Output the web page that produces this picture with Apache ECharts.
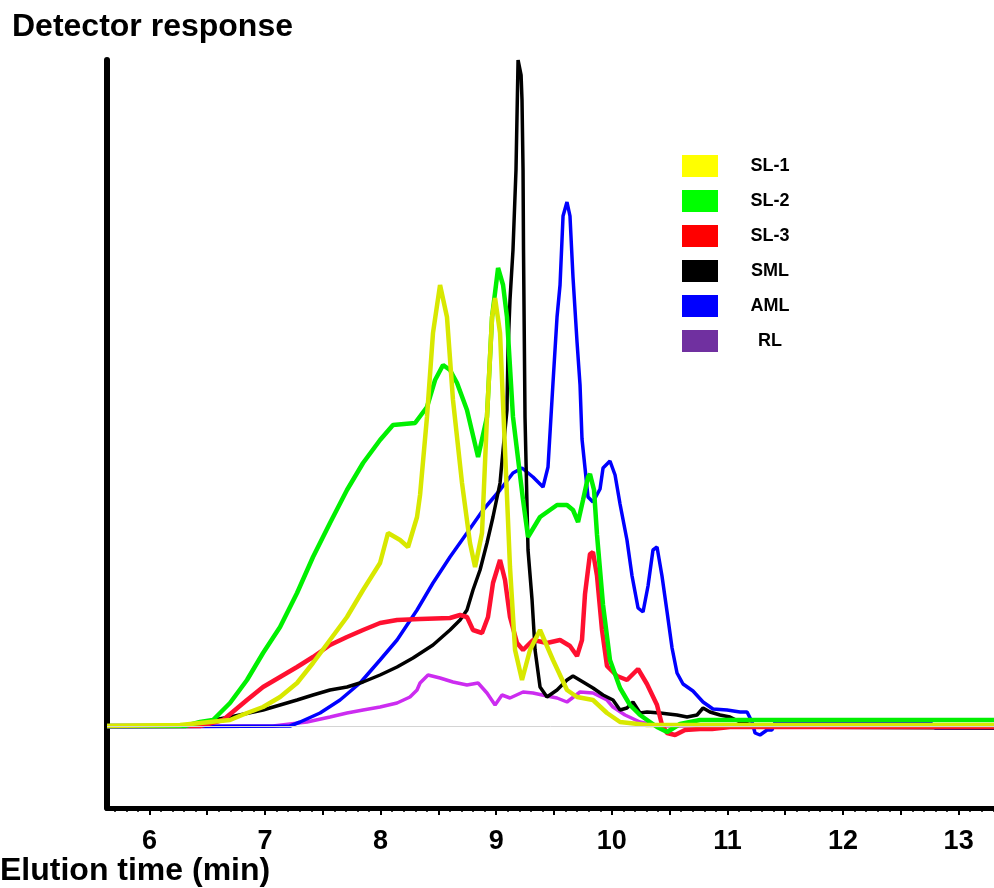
<!DOCTYPE html>
<html>
<head>
<meta charset="utf-8">
<script src="https://cdn.jsdelivr.net/npm/echarts@6/dist/echarts.min.js"></script>
<style>
  html, body { margin: 0; padding: 0; background: #fff; }
  #chart { width: 994px; height: 888px; }
</style>
</head>
<body>
<div id="chart"></div>
<script>
// elution time (min), detector response (arbitrary units, baseline = 0)
var sl1 = [[5.633,0],[6.265,1],[6.697,6],[6.844,13],[6.983,19],[7.130,29],[7.277,43],[7.415,63],[7.562,86],[7.709,109],
  [7.848,136],[7.995,163],[8.064,193],[8.168,186],[8.237,179],[8.315,209],[8.341,231],[8.401,309],[8.453,393],[8.514,441],
  [8.574,409],[8.626,326],[8.704,243],[8.773,183],[8.817,159],[8.877,193],[8.920,309],[8.964,409],[8.990,428],[9.033,393],
  [9.076,276],[9.119,159],[9.163,76],[9.223,46],[9.292,76],[9.379,96],[9.491,66],[9.612,36],[9.699,29],[9.837,26],
  [9.958,13],[10.071,4],[10.304,1],[13.306,1]];

var sl2 = [[5.633,0],[6.308,0],[6.438,4],[6.550,6],[6.697,23],[6.844,46],[6.983,73],[7.130,99],[7.277,133],[7.415,169],
  [7.562,203],[7.709,236],[7.848,263],[7.995,286],[8.107,301],[8.298,303],[8.401,319],[8.471,346],[8.540,361],[8.600,356],
  [8.661,343],[8.747,316],[8.843,269],[8.920,309],[8.964,409],[9.016,458],[9.059,441],[9.093,409],[9.145,309],[9.232,226],
  [9.275,189],[9.379,209],[9.526,221],[9.612,221],[9.664,216],[9.708,204],[9.751,226],[9.794,249],[9.811,252],[9.846,236],
  [9.872,191],[9.924,121],[9.984,66],[10.071,38],[10.157,21],[10.244,11],[10.391,-1],[10.478,-6],[10.590,2],[10.763,6],
  [13.306,6]];

var sl3 = [[5.633,0],[6.438,0],[6.637,6],[6.844,26],[6.983,39],[7.130,49],[7.277,59],[7.415,69],[7.562,81],[7.709,89],
  [7.848,96],[7.995,103],[8.142,106],[8.341,107],[8.600,108],[8.687,111],[8.747,109],[8.799,96],[8.877,93],[8.929,109],
  [8.972,143],[9.033,166],[9.076,146],[9.119,109],[9.180,83],[9.232,76],[9.318,86],[9.439,83],[9.552,86],[9.638,80],
  [9.699,70],[9.742,86],[9.768,132],[9.811,172],[9.837,174],[9.872,150],[9.915,96],[9.958,60],[10.045,50],[10.131,46],
  [10.227,57],[10.304,42],[10.391,21],[10.434,1],[10.478,-7],[10.547,-9],[10.633,-4],[10.763,-3],[10.867,-3],[11.022,-1],
  [13.306,-1]];

var sml = [[5.633,0],[6.351,0],[6.550,6],[6.697,9],[6.983,16],[7.130,21],[7.277,26],[7.415,31],[7.562,36],[7.709,39],
  [7.848,44],[7.995,51],[8.142,59],[8.280,68],[8.453,81],[8.600,96],[8.687,106],[8.747,116],[8.799,136],[8.860,156],
  [8.920,183],[8.972,209],[9.033,243],[9.059,276],[9.093,316],[9.102,376],[9.119,426],[9.145,476],[9.171,556],[9.189,666],
  [9.215,651],[9.223,626],[9.232,556],[9.236,476],[9.249,309],[9.275,176],[9.310,126],[9.336,76],[9.379,39],[9.439,29],
  [9.526,36],[9.612,46],[9.664,50],[9.751,44],[9.837,38],[9.924,31],[10.010,26],[10.071,16],[10.131,18],[10.183,24],
  [10.244,13],[10.304,14],[10.417,13],[10.564,11],[10.651,9],[10.737,11],[10.789,18],[10.849,14],[10.936,11],[11.022,9],
  [11.109,4],[11.282,-1],[13.306,-2]];

var aml = [[5.633,-1],[7.216,0],[7.303,4],[7.476,13],[7.649,26],[7.822,43],[7.995,66],[8.142,86],[8.315,116],[8.453,143],
  [8.600,169],[8.747,193],[8.886,216],[9.033,236],[9.145,253],[9.223,258],[9.318,249],[9.405,239],[9.448,259],[9.491,343],
  [9.526,409],[9.552,441],[9.578,510],[9.612,524],[9.638,510],[9.664,449],[9.699,384],[9.725,341],[9.742,287],[9.768,258],
  [9.794,229],[9.837,224],[9.898,237],[9.924,258],[9.984,265],[10.028,251],[10.071,222],[10.131,186],[10.175,150],[10.227,118],
  [10.270,114],[10.313,140],[10.356,176],[10.391,179],[10.434,150],[10.478,114],[10.521,78],[10.564,53],[10.616,42],[10.702,35],
  [10.789,24],[10.875,17],[10.997,16],[11.109,14],[11.170,14],[11.213,4],[11.239,-7],[11.282,-9],[11.343,-4],[11.386,-4],
  [11.412,4],[12.753,4],[12.796,-2],[13.306,-2]];

var rl = [[5.633,0],[7.069,0],[7.363,4],[7.562,9],[7.709,13],[7.848,16],[7.995,19],[8.142,23],[8.254,29],[8.315,36],
  [8.341,43],[8.410,51],[8.514,48],[8.626,44],[8.747,41],[8.843,43],[8.920,33],[8.990,21],[9.050,31],[9.119,28],
  [9.232,34],[9.318,33],[9.439,30],[9.526,28],[9.612,24],[9.725,34],[9.837,33],[9.958,26],[10.010,19],[10.114,11],
  [10.244,4],[10.417,0],[13.306,0]];

var seriesNames = ['SL-1', 'SL-2', 'SL-3', 'SML', 'AML', 'RL'];
var lineColors = ['#d8e800', '#00f000', '#ff1030', '#000000', '#0000ff', '#cc2cf0'];
var legendColors = ['#ffff00', '#00ff00', '#ff0000', '#000000', '#0000ff', '#7030a0'];
var lineWidths = [4.5, 4.5, 4.5, 3.5, 3.5, 3.5];
var seriesData = [sl1, sl2, sl3, sml, aml, rl];

var xTickLabels = [6, 7, 8, 9, 10, 11, 12, 13];
var xMin = 5.633, xMax = 13.306;
var yMin = -82, yMax = 666;

var majorTicks = [];
for (var m = 12; m <= 26; m++) majorTicks.push(m / 2);
var minorTicks = [];
for (var k = 57; k <= 133; k++) { if (k % 5 != 0) minorTicks.push(k / 10); }

var font = '"Liberation Sans", Arial, sans-serif';

var series = [];
// drawn back to front: RL, AML, SML, SL-3, SL-2, SL-1
for (var i = seriesNames.length - 1; i >= 0; i--) {
    var s = {
        name: seriesNames[i],
        type: 'line',
        data: seriesData[i],
        showSymbol: false,
        clip: false,
        color: lineColors[i],
        lineStyle: { color: lineColors[i], width: lineWidths[i] }
    };
    if (i == seriesNames.length - 1) {
        s.markLine = {
            silent: true,
            symbol: 'none',
            label: { show: false },
            lineStyle: { color: '#d4d4d4', width: 1, type: 'solid' },
            data: [{ yAxis: 0 }]
        };
    }
    series.push(s);
}

var legendData = [];
for (var j = 0; j < seriesNames.length; j++) {
    legendData.push({ name: seriesNames[j], itemStyle: { color: legendColors[j], borderWidth: 0 } });
}

var option = {
    backgroundColor: '#ffffff',
    animation: false,
    grid: { left: 107, right: 0, top: 60, bottom: 80 },
    legend: {
        orient: 'vertical',
        left: 677,
        top: 150,
        icon: 'rect',
        itemWidth: 36,
        itemHeight: 22,
        itemGap: 13,
        data: legendData,
        formatter: function (name) { return '{a|' + name + '}'; },
        textStyle: {
            rich: {
                a: { width: 94, align: 'center', fontSize: 18, fontWeight: 'bold', fontFamily: font, color: '#000' }
            }
        }
    },
    xAxis: [{
        type: 'value',
        min: xMin,
        max: xMax,
        axisLine: { show: true, onZero: false, lineStyle: { color: '#000', width: 5 } },
        axisTick: { show: true, customValues: majorTicks, length: 7, lineStyle: { color: '#000', width: 2 } },
        axisLabel: {
            customValues: xTickLabels,
            margin: 20,
            fontSize: 27,
            fontWeight: 'bold',
            fontFamily: font,
            color: '#000'
        },
        splitLine: { show: false }
    }, {
        type: 'value',
        min: xMin,
        max: xMax,
        position: 'bottom',
        axisLine: { show: false, onZero: false },
        axisTick: { show: true, customValues: minorTicks, length: 4, lineStyle: { color: '#000', width: 1.5 } },
        axisLabel: { show: false },
        splitLine: { show: false }
    }],
    yAxis: {
        type: 'value',
        min: yMin,
        max: yMax,
        axisLine: { show: true, lineStyle: { color: '#000', width: 6 } },
        axisTick: { show: false },
        axisLabel: { show: false },
        splitLine: { show: false }
    },
    graphic: [{
        type: 'text',
        x: 12,
        y: 27,
        style: { text: 'Detector response', font: 'bold 32px ' + font, fill: '#000', verticalAlign: 'middle' }
    }, {
        type: 'text',
        x: 0,
        y: 871,
        style: { text: 'Elution time (min)', font: 'bold 32px ' + font, fill: '#000', verticalAlign: 'middle' }
    }],
    series: series
};

var myChart = echarts.init(document.getElementById('chart'));
myChart.setOption(option);
</script>
</body>
</html>
